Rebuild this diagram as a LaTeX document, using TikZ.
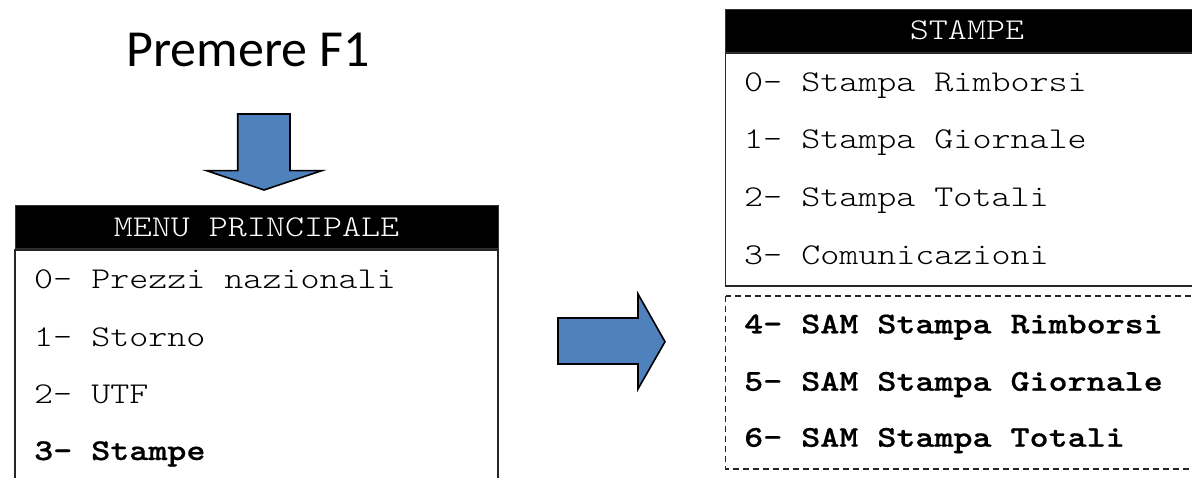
\documentclass[tikz,border=0pt]{standalone}
\usepackage{fontspec}
\newfontfamily\cour{lmmonolt10-regular.otf}[FakeStretch=1.2,BoldFont=lmmonolt10-bold.otf,BoldFeatures={FakeStretch=1.2,FakeBold=0.6}]
\newfontfamily\calib{Carlito}
\begin{document}
\begin{tikzpicture}[x=1pt,y=-1pt,
  menutext/.style={anchor=base west,inner sep=0pt,font=\fontsize{30.2}{34}\selectfont\cour},
  boldtext/.style={menutext,font=\fontsize{30.2}{34}\selectfont\cour\bfseries},
  headtext/.style={anchor=base,inner sep=0pt,text=white,font=\fontsize{30.2}{34}\selectfont\cour},
  header/.style={fill=black,draw=black!80,line width=1pt},
  panel/.style={draw=black!85,line width=1.5pt},
  dashpanel/.style={draw=black!85,line width=1.2pt,dash pattern=on 6pt off 4pt},
  blockarrow/.style={fill={rgb,255:red,79;green,129;blue,189},draw=black,line width=1.6pt,line join=miter}]
\useasboundingbox (0,0) rectangle (1192,478);
\clip (0,0) rectangle (1192,478);
% title
\node[anchor=base,inner sep=0pt,font=\fontsize{52}{56}\selectfont\calib] (title) at (248,66.7) {Premere F1};
% down arrow
\draw[blockarrow] (237.7,114) -- (290,114) -- (290,170.7) -- (321.7,170.7) -- (264,190) -- (206.7,170.7) -- (237.7,170.7) -- cycle;
% left panel
\draw[panel] (15,485) -- (15,250) -- (498,250) -- (498,485);
\fill[header] (15,206) rectangle (498,249);
\node[headtext] (mhead) at (256.5,236.7) {MENU PRINCIPALE};
\node[menutext] (m0) at (34,288.3) {0- Prezzi nazionali};
\node[menutext] (m1) at (34,346.7) {1- Storno};
\node[menutext] (m2) at (34,403) {2- UTF};
\node[boldtext] (m3) at (34,460) {3- Stampe};
% right arrow
\draw[blockarrow] (558,318) -- (638,318) -- (638,294) -- (665,341.7) -- (638,389) -- (638,364) -- (558,364) -- cycle;
% right panel
\draw[panel] (725.5,53) rectangle (1210,286);
\fill[header] (725.5,9.3) rectangle (1210,53);
\node[headtext] (shead) at (967,40) {STAMPE};
\node[menutext] (s0) at (744,91.7) {0- Stampa Rimborsi};
\node[menutext] (s1) at (744,148.3) {1- Stampa Giornale};
\node[menutext] (s2) at (744,206.7) {2- Stampa Totali};
\node[menutext] (s3) at (744,265) {3- Comunicazioni};
\draw[dashpanel] (725.5,296) rectangle (1210,469);
\node[boldtext] (s4) at (744,333.3) {4- SAM Stampa Rimborsi};
\node[boldtext] (s5) at (744,390.7) {5- SAM Stampa Giornale};
\node[boldtext] (s6) at (744,446.7) {6- SAM Stampa Totali};
\end{tikzpicture}
\end{document}
